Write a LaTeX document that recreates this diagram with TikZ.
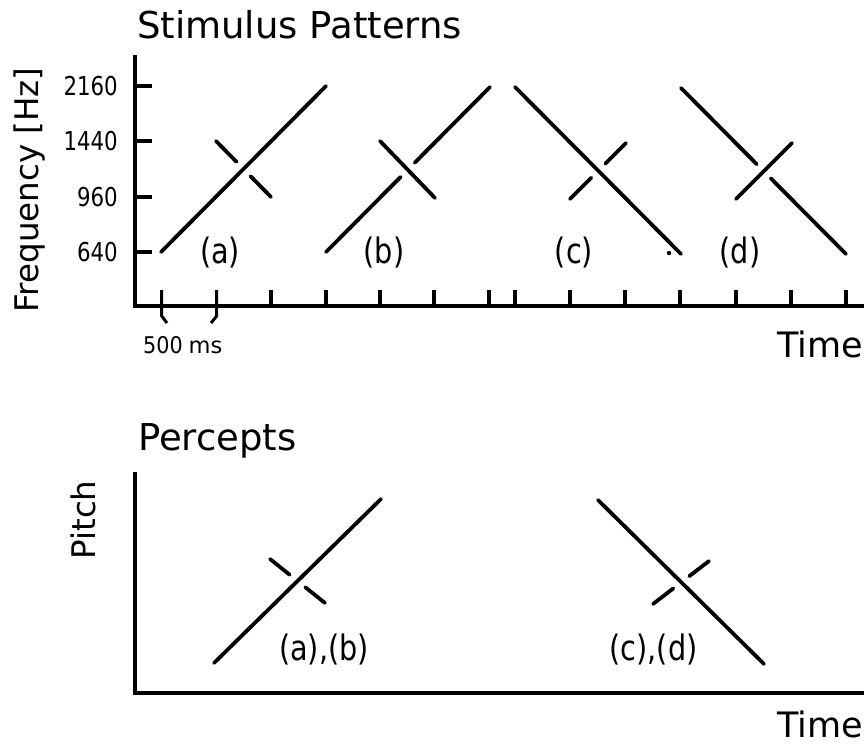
\documentclass[tikz,border=0pt]{standalone}
\usepackage{fontspec}
\setmainfont{DejaVu Sans}
\newfontfamily\narrowfont[FakeStretch=0.82]{DejaVu Sans}
\newfontfamily\narrowfontb[FakeStretch=0.9]{DejaVu Sans}
\usetikzlibrary{calc}
\begin{document}
\begin{tikzpicture}[x=1pt,y=-1pt,
  axis/.style={line width=4pt},
  tickmark/.style={line width=3.4pt},
  trace/.style={line width=3.8pt,line cap=round},
  bracketline/.style={line width=3pt},
  titletext/.style={inner sep=0pt,anchor=base west,font=\fontsize{37}{40}\selectfont},
  axistext/.style={inner sep=0pt,font=\fontsize{32.5}{36}\selectfont},
  ticktext/.style={inner sep=0pt,anchor=east,font={\narrowfont\fontsize{26}{28}\selectfont}},
  lbl/.style={inner sep=0pt,font={\narrowfont\fontsize{35}{36}\selectfont}},
  timetext/.style={inner sep=0pt,anchor=base west,font=\fontsize{35}{40}\selectfont}]
\useasboundingbox (0,0) rectangle (864,745);
\fill[white] (0,0) rectangle (864,745);

% ---------------- top panel ----------------
\node[titletext] (title1) at (137,38) {Stimulus Patterns};
\node[axistext,rotate=90,anchor=base] (ylab1) at (38,190) {Frequency [Hz]};

\coordinate (yaxTop) at (134.5,55);
\coordinate (origin1) at (134.5,306);
\coordinate (xaxEnd1) at (864,306);
\draw[axis] (yaxTop) -- (origin1);
\draw[axis] (132.5,306) -- (xaxEnd1);

% y ticks and labels
\foreach \yy/\lab in {86/2160,141/1440,197/960,252/640}{
  \draw[tickmark] (134.5,\yy) -- (152,\yy);
  \node[ticktext] (yt\lab) at (118,\yy) {\lab};
}

% x ticks
\foreach \xx in {271,326,380,434,489,515,570,625,680,736,791,846}{
  \draw[tickmark] (\xx,290) -- (\xx,306);
}
% first two ticks with bracket ends
\draw[bracketline] (161.7,290) -- (161.7,316) -- (167,323);
\draw[bracketline] (216.7,290) -- (216.7,316) -- (211,323);
\node[inner sep=0pt,anchor=base west] (ms) at (143,353)
  {{\narrowfontb\fontsize{23}{24}\selectfont 500}\hspace{6pt}{\fontsize{22.5}{24}\selectfont ms}};

\node[timetext] (time1) at (777,357) {Time};

% pattern (a): long rising continuous, short falling broken
\coordinate (a1) at (161,252); \coordinate (a2) at (326,86);
\coordinate (a3) at (216,141); \coordinate (a4) at (271,197);
\coordinate (ax) at (intersection of a1--a2 and a3--a4);
\draw[trace] (a1) -- (a2);
\draw[trace] (a3) -- ($(ax)!10pt!(a3)$);
\draw[trace] ($(ax)!10pt!(a4)$) -- (a4);

% pattern (b): long rising broken, short falling continuous
\coordinate (b1) at (326,252); \coordinate (b2) at (490,87);
\coordinate (b3) at (380,141); \coordinate (b4) at (435,198);
\coordinate (bx) at (intersection of b1--b2 and b3--b4);
\draw[trace] (b3) -- (b4);
\draw[trace] (b1) -- ($(bx)!10pt!(b1)$);
\draw[trace] ($(bx)!10pt!(b2)$) -- (b2);

% pattern (c): long falling continuous, short rising broken
\coordinate (c1) at (515,87); \coordinate (c2) at (681,254);
\coordinate (c3) at (570,199); \coordinate (c4) at (626,143);
\coordinate (cx) at (intersection of c1--c2 and c3--c4);
\draw[trace] (c1) -- (c2);
\draw[trace] (c3) -- ($(cx)!10pt!(c3)$);
\draw[trace] ($(cx)!10pt!(c4)$) -- (c4);
\fill (669,253) circle (2.2pt);

% pattern (d): long falling broken, short rising continuous
\coordinate (d1) at (681,88); \coordinate (d2) at (846,254);
\coordinate (d3) at (736,199); \coordinate (d4) at (792,143);
\coordinate (dx) at (intersection of d1--d2 and d3--d4);
\draw[trace] (d3) -- (d4);
\draw[trace] (d1) -- ($(dx)!10pt!(d1)$);
\draw[trace] ($(dx)!10pt!(d2)$) -- (d2);

\node[lbl] (la) at (220,253) {(a)};
\node[lbl] (lb) at (384,253) {(b)};
\node[lbl] (lc) at (574,253) {(c)};
\node[lbl] (ld) at (740,253) {(d)};

% ---------------- bottom panel ----------------
\node[titletext] (title2) at (138,450) {Percepts};
\node[axistext,rotate=90,anchor=base] (ylab2) at (95,520) {Pitch};

\coordinate (yaxTop2) at (134.5,472);
\coordinate (origin2) at (134.5,693);
\coordinate (xaxEnd2) at (864,693);
\draw[axis] (yaxTop2) -- (origin2);
\draw[axis] (132.5,693) -- (xaxEnd2);

% percept (a),(b)
\coordinate (p1) at (214,663); \coordinate (p2) at (381,499);
\coordinate (p3) at (270,559); \coordinate (p4) at (325,603);
\coordinate (px) at (intersection of p1--p2 and p3--p4);
\draw[trace] (p1) -- (p2);
\draw[trace] (p3) -- ($(px)!10pt!(p3)$);
\draw[trace] ($(px)!10pt!(p4)$) -- (p4);

% percept (c),(d)
\coordinate (q1) at (598,500); \coordinate (q2) at (764,664);
\coordinate (q3) at (653,604); \coordinate (q4) at (709,561);
\coordinate (qx) at (intersection of q1--q2 and q3--q4);
\draw[trace] (q1) -- (q2);
\draw[trace] (q3) -- ($(qx)!10pt!(q3)$);
\draw[trace] ($(qx)!10pt!(q4)$) -- (q4);

\node[lbl] (lab) at (324,649) {(a),(b)};
\node[lbl] (lcd) at (653.5,649) {(c),(d)};

\node[timetext] (time2) at (777,737) {Time};
\end{tikzpicture}
\end{document}
